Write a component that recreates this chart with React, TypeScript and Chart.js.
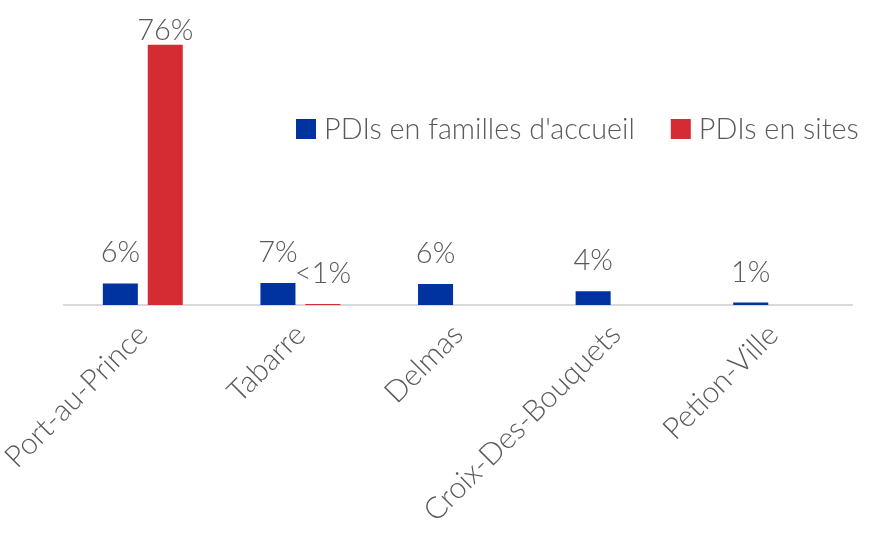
import React, { useEffect, useRef } from "react";
import { Chart, registerables } from "chart.js";

Chart.register(...registerables);

const categories = ["Port-au-Prince", "Tabarre", "Delmas", "Croix-Des-Bouquets", "Petion-Ville"];
const seriesNames = ["PDIs en familles d'accueil", "PDIs en sites"];
const hostFamilies = [6.3, 6.4, 6.1, 4.0, 0.7];
const sites = [76, 0.3, 0, 0, 0];
const hostLabels = ["6%", "7%", "6%", "4%", "1%"];
const siteLabels = ["76%", "<1%", "", "", ""];
const colors = ["#0033a0", "#d52b33"];

const FONT = "Lato, 'Open Sans', sans-serif";
const TEXT = "#595959";

const labelPlugin = {
  id: "barLabels",
  afterDatasetsDraw(chart: any) {
    const ctx = chart.ctx;
    const lists = [hostLabels, siteLabels];
    ctx.save();
    ctx.font = `300 29px ${FONT}`;
    ctx.fillStyle = TEXT;
    ctx.textAlign = "center";
    ctx.textBaseline = "alphabetic";
    chart.data.datasets.forEach((ds: any, di: number) => {
      const meta = chart.getDatasetMeta(di);
      meta.data.forEach((bar: any, i: number) => {
        const t = lists[di][i];
        if (!t) return;
        const y = Math.max(bar.y - 21, chart.chartArea.top + 9);
        ctx.fillText(t, bar.x, y);
      });
    });
    ctx.restore();
  },
};

const legendPlugin = {
  id: "customLegend",
  afterDraw(chart: any) {
    const ctx = chart.ctx;
    ctx.save();
    ctx.font = `300 28.8px ${FONT}`;
    ctx.textBaseline = "middle";
    ctx.textAlign = "left";
    let x = 296;
    const yc = 129;
    chart.data.datasets.forEach((ds: any) => {
      ctx.fillStyle = ds.backgroundColor;
      ctx.fillRect(x, yc - 10, 20, 20);
      x += 28;
      ctx.fillStyle = TEXT;
      ctx.fillText(ds.label, x, yc + 1);
      x += ctx.measureText(ds.label).width + 36;
    });
    ctx.restore();
  },
};

export default function App() {
  const ref = useRef<HTMLCanvasElement>(null);
  useEffect(() => {
    document.body.style.margin = "0";
    const chart = new Chart(ref.current!, {
      type: "bar",
      data: {
        labels: categories,
        datasets: [
          { label: seriesNames[0], data: hostFamilies, backgroundColor: colors[0] },
          { label: seriesNames[1], data: sites, backgroundColor: colors[1] },
        ],
      },
      options: {
        animation: false,
        responsive: false,
        layout: { padding: { top: 31, left: 0, right: 23, bottom: 0 } },
        datasets: { bar: { categoryPercentage: 0.57, barPercentage: 0.78 } } as any,
        plugins: { legend: { display: false }, tooltip: { enabled: false } },
        scales: {
          y: { display: false, min: 0, max: 80 },
          x: {
            grid: { display: false, drawTicks: false },
            border: { display: true, color: "#d9d9d9", width: 2 },
            afterFit(scale: any) {
              scale.height = 228;
              scale.paddingLeft = 64;
            },
            ticks: {
              minRotation: 45,
              maxRotation: 45,
              padding: 12,
              color: TEXT,
              font: { family: FONT, size: 30, weight: "300" as any },
            },
          },
        },
      },
      plugins: [labelPlugin, legendPlugin],
    });
    return () => chart.destroy();
  }, []);
  return (
    <div style={{ width: 875, height: 533 }}>
      <canvas ref={ref} width={875} height={533} />
    </div>
  );
}
